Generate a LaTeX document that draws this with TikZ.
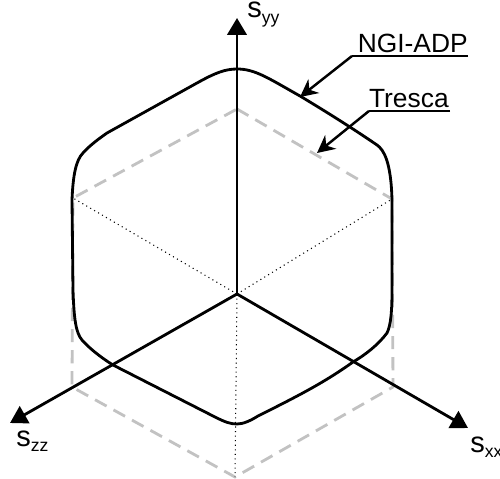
\documentclass[tikz,border=0pt]{standalone}
\usepackage{fontspec}
\setmainfont{Liberation Sans}
\usetikzlibrary{arrows.meta}

\begin{document}
\begin{tikzpicture}[x=0.02cm, y=-0.02cm,
          axis/.style={draw=black, line width=1.6pt, -{Triangle[length=9.6pt, width=11pt]}},
          yield/.style={draw=black, line width=1.6pt, line join=round},
          tresca/.style={draw=black!24, line width=1.6pt, dash pattern=on 7.5pt off 4.5pt},
          radial/.style={draw=black, line width=0.6pt, dotted},
          leader/.style={draw=black, line width=1.4pt, -{Stealth[length=10pt, width=10pt]}},
          underline/.style={draw=black, line width=0.7pt},
          curvename/.style={font=\fontsize{15}{16}\selectfont, inner sep=0pt, anchor=base east},
          axisname/.style={font=\fontsize{16.5}{17}\selectfont, inner sep=0pt, anchor=base west}
        ]
        \useasboundingbox (0,0) rectangle (500,479);
        \newcommand{\axissub}[1]{\raisebox{-3.4pt}{\fontsize{10}{10}\selectfont #1}}

        % Corners of the hexagon
        \coordinate (origin) at (237,294);
        \coordinate (hextop) at (237,109);
        \coordinate (hexur) at (392,199);
        \coordinate (hexlr) at (393,387);
        \coordinate (hexbot) at (235,477);
        \coordinate (hexll) at (72,387);
        \coordinate (hexul) at (73,198);

        % Tresca
        \draw[tresca] (hextop) -- (hexur) -- (hexlr) -- (hexbot) -- (hexll) -- (hexul) -- cycle;
        \draw[radial] (origin) -- (hexul);
        \draw[radial] (origin) -- (hexur);
        \draw[radial] (origin) -- (hexbot);

        % NGI-ADP
        \draw[yield] (237,69) .. controls (255,69) and (268,78) .. (300,96)
          .. controls (330,114) and (355,130) .. (377,145)
          .. controls (384,150) and (391,162) .. (392,200)
          -- (392,290) .. controls (392,310) and (391,325) .. (387,333)
          .. controls (378,345) and (365,355) .. (353,362)
          .. controls (325,382) and (300,395) .. (258,416)
          .. controls (250,421) and (243,424) .. (237,424)
          .. controls (230,424) and (225,422) .. (215,417)
          -- (113,365) .. controls (100,357) and (88,347) .. (82,340)
          .. controls (76,333) and (74,320) .. (73,290)
          -- (72,200) .. controls (73,175) and (76,160) .. (83,153)
          .. controls (90,145) and (100,138) .. (107,133)
          -- (197,83) .. controls (215,73) and (225,69) .. (237,69) -- cycle;

        % Axes
        \coordinate (yytip) at (237,18);
        \coordinate (zztip) at (10,423);
        \coordinate (xxtip) at (468,428);
        \draw[axis] (origin) -- (yytip);
        \draw[axis] (origin) -- (zztip);
        \draw[axis] (origin) -- (xxtip);
        \node[axisname] (yylabel) at (247,18) {s\axissub{yy}};
        \node[axisname] (zzlabel) at (16,446) {s\axissub{zz}};
        \node[axisname] (xxlabel) at (470,452) {s\axissub{xx}};

        % Curve names
        \node[curvename] (ngilabel) at (468,53) {NGI-ADP};
        \node[curvename] (trescalabel) at (449,108) {Tresca};
        \coordinate (ngiend) at (468,56);
        \coordinate (ngiknee) at (352,56);
        \coordinate (ngitip) at (300,97);
        \coordinate (trescaend) at (450,111);
        \coordinate (trescaknee) at (369,111);
        \coordinate (trescatip) at (317,153);
        \draw[underline] (ngiend) -- (ngiknee);
        \draw[underline] (trescaend) -- (trescaknee);
        \draw[leader] (ngiknee) -- (ngitip);
        \draw[leader] (trescaknee) -- (trescatip);
\end{tikzpicture}
\end{document}
